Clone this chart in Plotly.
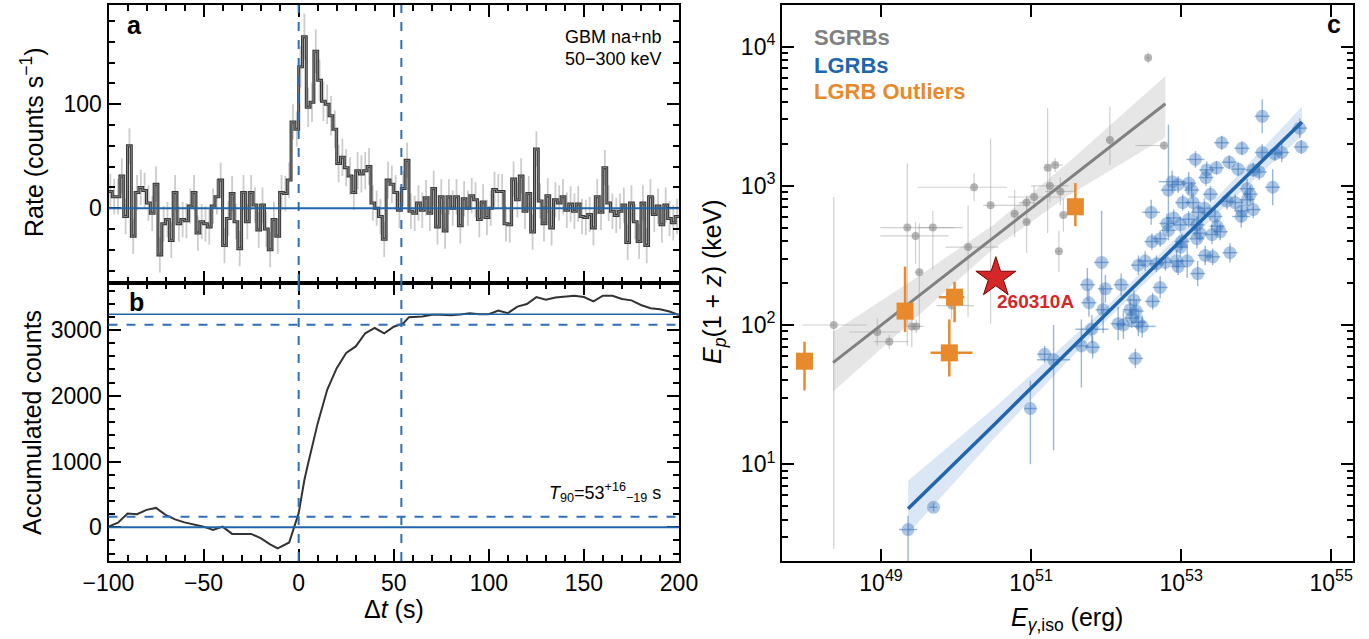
import numpy as np
import plotly.graph_objects as go

W, H = 1369, 639

# ---------------- Panel a: GBM light curve (2 s bins) ----------------
bin_width = 2.0
rate_pre = [16, 11, 11, 31, -8, 60, -27, 15, 20, 17, 5, -5, 23, -45, -15, -11, -31, 15, -15, -11,
            -12, 2, 15, -24, -13, -15, -18, 2, 11, 27, -36, -10, 14, -13, -39, 15, -13, 15, 3, -21,
            3, -20, -40, -11, -27, 15, 14, 27, 83, 76]
rate_burst = [136, 165, 97, 102, 151, 123, 103, 100, 89, 76, 43, 49, 39, 31, 15, 36, 33, 36, 40, 5,
              0, -8, -30, 27, 23, 15, -2, 19]
rate_post = [46, -3, -5, 5, -2, 10, -5, 19, -18, 11, -22, 11, 0, 11, -17, 9, 0, 12, 8, -11,
             6, -9, 0, 18, 16, 16, -15, -16, 28, 8, 31, -3, 14, -23, 57, 7, -15, 12, -19, 8,
             5, 11, -2, 4, -3, 4, -8, -9, -6, -19, 11, -4, 39, 5, -3, -7, -3, 3, -33, 5,
             -13, -32, 5, -36, 11, -6, 2, -16, 3, -10, -14, -8]
err_background = 17
err_burst = [20, 22, 19, 19, 21, 20, 19, 19, 19, 18, 18, 18, 18, 18, 17, 18, 18, 18, 18, 17,
             17, 17, 17, 18, 18, 17, 17, 17]

t_start = -100.0
rate = rate_pre + rate_burst + rate_post
rate_err = [err_background] * len(rate_pre) + err_burst + [err_background] * len(rate_post)
t_edges = [t_start + bin_width * i for i in range(len(rate) + 1)]
t_centers = [t_start + bin_width * (i + 0.5) for i in range(len(rate))]

# ---------------- Panel b: accumulated counts ----------------
cum_t = [-100, -95, -90, -85, -80, -75, -70, -65, -60, -55, -50, -45, -40, -35, -30, -25, -20, -15,
         -11, -5, 0, 3, 5, 10, 15, 20, 25, 30, 35, 40, 45, 50, 55, 58, 65, 70, 75, 80, 85, 90, 95,
         100, 105, 110, 115, 120, 125, 130, 135, 140, 145, 150, 155, 160, 165, 170, 175, 180, 185,
         190, 195, 200]
cum_c = [10, 70, 210, 200, 265, 295, 190, 120, 75, 45, 10, -40, 10, -100, -105, -100, -165, -260,
         -320, -230, 215, 720, 975, 1580, 2090, 2420, 2650, 2750, 2950, 3030, 2950, 3050, 3100, 3195,
         3205, 3230, 3230, 3225, 3235, 3255, 3240, 3240, 3295, 3255, 3355, 3395, 3500, 3460, 3495,
         3510, 3520, 3500, 3435, 3520, 3520, 3470, 3450, 3380, 3330, 3315, 3280, 3225]
fluence_level = 3240
level_5 = 162
level_95 = 3078
t90_start = 0.0
t90_end = 54.0

# ---------------- Panel c: Amati relation (log10 values) ----------------
sg_lx = [52.56, 52.05, 52.77, 51.22, 51.32, 51.25, 50.24, 51.39, 51.04, 50.94, 50.46, 50.78, 50.94,
         51.43, 49.35, 49.69, 49.46, 50.16, 51.37, 49.51, 49.94, 48.37, 48.95, 49.11, 49.41, 49.47]
sg_ly = [3.92, 3.33, 3.29, 3.13, 3.15, 3.00, 2.99, 2.96, 2.92, 2.88, 2.86, 2.80, 2.74,
         2.79, 2.70, 2.70, 2.64, 2.56, 2.53, 2.38, 2.14, 2.00, 1.95, 1.88, 1.99, 1.99]
sg_dxm = [0.03, 0.05, 0.38, 0.05, 0.10, 0.25, 0.75, 0.20, 0.35, 0.10, 0.10, 0.05, 0.05,
          0.05, 0.36, 0.20, 0.47, 0.30, 0.05, 0.05, 0.20, 0.42, 0.37, 0.20, 0.10, 0.10]
sg_dxp = [0.03, 0.05, 0.03, 0.05, 0.10, 0.25, 0.44, 0.20, 0.35, 0.10, 0.50, 0.05, 0.05,
          0.05, 0.63, 0.40, 0.44, 0.40, 0.05, 0.05, 0.30, 0.44, 0.31, 0.25, 0.10, 0.10]
sg_dym = [0.04, 0.18, 0.03, 0.47, 0.05, 0.12, 0.10, 0.10, 0.08, 0.05, 0.85, 0.17, 0.22,
          0.12, 0.85, 0.30, 0.20, 0.50, 0.15, 0.40, 0.10, 1.61, 0.10, 0.05, 0.15, 0.05]
sg_dyp = [0.04, 0.24, 0.03, 0.43, 0.05, 0.12, 0.10, 0.10, 0.08, 0.05, 0.48, 0.17, 0.17,
          0.12, 0.46, 0.12, 0.10, 0.30, 0.15, 0.35, 0.10, 0.92, 0.10, 0.05, 0.10, 0.05]

lg_lx = [54.08, 54.58, 54.60, 53.54, 53.81, 54.08, 54.34, 54.25, 53.19, 53.64, 53.47, 53.76, 53.34,
         53.33, 53.96, 54.04, 52.88, 53.10, 52.96, 52.83, 53.14, 53.88, 54.22, 53.39, 53.92, 53.02,
         53.16, 52.60, 53.31, 53.61, 53.72, 53.88, 53.96, 53.81, 53.80, 53.45, 53.23, 52.90, 53.10,
         52.81, 52.99, 53.21, 52.83, 53.48, 53.52, 53.25, 53.41, 53.21, 52.72, 52.61, 53.01, 52.99,
         53.65, 53.32, 53.42, 53.08, 52.94, 51.94, 52.43, 52.52, 52.67, 52.79, 52.96, 53.22, 51.75,
         51.99, 52.20, 52.72, 51.77, 51.96, 52.37, 52.62, 52.32, 52.40, 52.34, 52.43, 52.48, 52.16,
         52.23, 51.81, 51.67, 51.82, 51.18, 51.30, 52.39, 50.99, 49.70, 49.36]
lg_ly = [3.50, 3.415, 3.28, 3.31, 3.27, 3.24, 3.24, 3.23, 3.19, 3.17, 3.13, 3.12, 3.115,
         3.06, 3.115, 3.10, 3.03, 3.02, 3.01, 2.97, 2.97, 2.98, 2.99, 2.94, 2.94, 2.88,
         2.88, 2.81, 2.84, 2.89, 2.88, 2.90, 2.83, 2.82, 2.78, 2.78, 2.81, 2.77, 2.76,
         2.73, 2.72, 2.72, 2.68, 2.71, 2.67, 2.66, 2.65, 2.62, 2.62, 2.60, 2.60, 2.56,
         2.52, 2.50, 2.49, 2.46, 2.46, 2.45, 2.43, 2.46, 2.44, 2.45, 2.42, 2.37, 2.29,
         2.26, 2.29, 2.27, 2.16, 2.11, 2.18, 2.17, 2.11, 2.10, 2.05, 2.02, 1.99, 2.01,
         2.00, 1.97, 1.85, 1.84, 1.79, 1.75, 1.76, 1.40, 0.69, 0.53]
lg_dx = [0.10, 0.10, 0.10, 0.10, 0.10, 0.10, 0.10, 0.10, 0.12, 0.10, 0.10, 0.10, 0.10,
         0.10, 0.10, 0.10, 0.18, 0.10, 0.10, 0.10, 0.10, 0.10, 0.10, 0.10, 0.10, 0.10,
         0.10, 0.12, 0.10, 0.10, 0.10, 0.10, 0.10, 0.10, 0.12, 0.10, 0.10, 0.10, 0.10,
         0.10, 0.10, 0.10, 0.10, 0.10, 0.10, 0.10, 0.10, 0.10, 0.10, 0.10, 0.10, 0.10,
         0.10, 0.10, 0.10, 0.10, 0.10, 0.10, 0.10, 0.10, 0.10, 0.10, 0.10, 0.10, 0.10,
         0.10, 0.10, 0.10, 0.10, 0.10, 0.10, 0.10, 0.10, 0.10, 0.10, 0.10, 0.18, 0.10,
         0.10, 0.22, 0.10, 0.10, 0.10, 0.22, 0.10, 0.08, 0.05, 0.12]
lg_dyp = [0.12, 0.07, 0.05, 0.05, 0.05, 0.06, 0.07, 0.05, 0.06, 0.05, 0.05, 0.05, 0.06,
          0.06, 0.05, 0.06, 0.08, 0.08, 0.06, 0.47, 0.06, 0.07, 0.13, 0.06, 0.06, 0.06,
          0.07, 0.09, 0.07, 0.06, 0.06, 0.06, 0.06, 0.08, 0.08, 0.07, 0.06, 0.06, 0.06,
          0.07, 0.06, 0.06, 0.07, 0.06, 0.06, 0.06, 0.07, 0.07, 0.06, 0.06, 0.06, 0.07,
          0.07, 0.07, 0.06, 0.12, 0.08, 0.37, 0.07, 0.07, 0.06, 0.06, 0.06, 0.09, 0.12,
          0.10, 0.08, 0.08, 0.10, 0.17, 0.07, 0.06, 0.08, 0.08, 0.07, 0.10, 0.08, 0.12,
          0.10, 0.10, 0.19, 0.08, 0.06, 0.25, 0.07, 0.20, 0.03, 0.10]
lg_dym = [0.12, 0.07, 0.05, 0.05, 0.05, 0.06, 0.07, 0.05, 0.06, 0.05, 0.05, 0.05, 0.06,
          0.06, 0.05, 0.06, 0.08, 0.08, 0.06, 0.30, 0.06, 0.07, 0.13, 0.06, 0.06, 0.06,
          0.07, 0.09, 0.07, 0.06, 0.06, 0.06, 0.06, 0.08, 0.08, 0.07, 0.06, 0.06, 0.06,
          0.07, 0.06, 0.06, 0.07, 0.06, 0.06, 0.06, 0.07, 0.07, 0.06, 0.06, 0.06, 0.07,
          0.07, 0.07, 0.06, 0.12, 0.08, 0.37, 0.07, 0.07, 0.06, 0.06, 0.06, 0.09, 0.12,
          0.10, 0.08, 0.08, 0.10, 0.17, 0.07, 0.06, 0.08, 0.08, 0.07, 0.10, 0.08, 0.12,
          0.10, 0.10, 0.30, 0.08, 0.06, 0.65, 0.07, 0.40, 0.03, 0.40]

out_lx = [51.59, 49.98, 49.32, 49.91, 47.98]
out_ly = [2.85, 2.20, 2.10, 1.80, 1.74]
out_dxm = [0.0, 0.21, 0.0, 0.25, 0.0]
out_dxp = [0.0, 0.13, 0.0, 0.31, 0.0]
out_dym = [0.14, 0.18, 0.15, 0.17, 0.21]
out_dyp = [0.17, 0.11, 0.32, 0.24, 0.14]

grb_lx = [50.53]
grb_ly = [2.34]
grb_name = "260310A"

# fitted relations and their confidence bands (log10 values)
sg_fit_lx = [48.36, 49.5, 50.5, 51.5, 52.79]
sg_fit_ly = [1.73, 2.21, 2.63, 3.05, 3.59]
sg_band_lo = [1.52, 2.07, 2.55, 2.93, 3.35]
sg_band_hi = [1.95, 2.35, 2.72, 3.17, 3.79]
lg_fit_lx = [49.36, 50.5, 52.0, 53.5, 54.61]
lg_fit_ly = [0.68, 1.28, 2.08, 2.87, 3.46]
lg_band_lo = [0.50, 1.18, 2.03, 2.81, 3.36]
lg_band_hi = [0.88, 1.40, 2.13, 2.93, 3.57]

# tick labels of panel c
ep_tick_exp = [1, 2, 3, 4]
eiso_tick_exp = [49, 51, 53, 55]

# ---------------- colours / styling ----------------
BLUE = "#2166ac"
BLUE_D = "#2f6fba"
GRAY = "#808080"
ORANGE = "#e8892c"
RED = "#d62728"
TICKFONT = dict(family="Liberation Sans, Arial", size=23, color="black")


def px(x):
    return x / W


def py(y):
    return 1 - y / H


def pw(a):
    return 10 ** np.asarray(a, dtype=float)


def err_plus(l, d):
    return pw(np.add(l, d)) - pw(l)


def err_minus(l, d):
    return pw(l) - pw(np.subtract(l, d))


fig = go.Figure()

# Panel a
fig.add_trace(go.Scatter(x=t_centers, y=rate, mode="markers", marker=dict(size=1, opacity=0),
                         error_y=dict(type="data", array=rate_err, color="#cccccc", thickness=1.8, width=0),
                         xaxis="x", yaxis="y", showlegend=False, hoverinfo="skip"))
fig.add_trace(go.Scatter(x=t_edges, y=rate + [rate[-1]], mode="lines", line=dict(shape="hv", color="#383838", width=3),
                         xaxis="x", yaxis="y", showlegend=False))
fig.add_trace(go.Scatter(x=t_edges, y=rate + [rate[-1]], mode="lines", line=dict(shape="hv", color="#8c8c8c", width=0.9),
                         xaxis="x", yaxis="y", showlegend=False))

# Panel b
fig.add_trace(go.Scatter(x=cum_t, y=cum_c, mode="lines", line=dict(color="#333333", width=2),
                         xaxis="x2", yaxis="y2", showlegend=False))

# Panel c bands
for bx, blo, bhi, col in [(sg_fit_lx, sg_band_lo, sg_band_hi, "rgba(190,190,190,0.38)"),
                          (lg_fit_lx, lg_band_lo, lg_band_hi, "rgba(160,192,228,0.38)")]:
    fig.add_trace(go.Scatter(x=list(pw(bx)) + list(pw(bx[::-1])), y=list(pw(bhi)) + list(pw(blo[::-1])),
                             mode="lines", fill="toself", fillcolor=col, line=dict(width=0),
                             xaxis="x3", yaxis="y3", showlegend=False, hoverinfo="skip"))

# SGRB points
fig.add_trace(go.Scatter(x=pw(sg_lx), y=pw(sg_ly), mode="markers",
                         marker=dict(size=8, color="rgba(135,135,135,0.6)"),
                         error_x=dict(type="data", symmetric=False, array=err_plus(sg_lx, sg_dxp),
                                      arrayminus=err_minus(sg_lx, sg_dxm), color="rgba(150,150,150,0.45)",
                                      thickness=1.2, width=0),
                         error_y=dict(type="data", symmetric=False, array=err_plus(sg_ly, sg_dyp),
                                      arrayminus=err_minus(sg_ly, sg_dym), color="rgba(150,150,150,0.45)",
                                      thickness=1.2, width=0),
                         xaxis="x3", yaxis="y3", showlegend=False))
# LGRB points
fig.add_trace(go.Scatter(x=pw(lg_lx), y=pw(lg_ly), mode="markers",
                         marker=dict(size=13, color="rgba(50,112,186,0.40)"),
                         error_x=dict(type="data", array=err_plus(lg_lx, lg_dx),
                                      arrayminus=err_minus(lg_lx, lg_dx), symmetric=False,
                                      color="rgba(50,112,186,0.5)", thickness=1.4, width=0),
                         error_y=dict(type="data", symmetric=False, array=err_plus(lg_ly, lg_dyp),
                                      arrayminus=err_minus(lg_ly, lg_dym), color="rgba(50,112,186,0.5)",
                                      thickness=1.4, width=0),
                         xaxis="x3", yaxis="y3", showlegend=False))
# fit lines
fig.add_trace(go.Scatter(x=pw(sg_fit_lx), y=pw(sg_fit_ly), mode="lines", line=dict(color=GRAY, width=3),
                         xaxis="x3", yaxis="y3", showlegend=False))
fig.add_trace(go.Scatter(x=pw(lg_fit_lx), y=pw(lg_fit_ly), mode="lines", line=dict(color=BLUE, width=3.5),
                         xaxis="x3", yaxis="y3", showlegend=False))
# outliers
fig.add_trace(go.Scatter(x=pw(out_lx), y=pw(out_ly), mode="markers",
                         marker=dict(size=17, symbol="square", color=ORANGE),
                         error_x=dict(type="data", symmetric=False, array=err_plus(out_lx, out_dxp),
                                      arrayminus=err_minus(out_lx, out_dxm), color=ORANGE, thickness=2.5, width=0),
                         error_y=dict(type="data", symmetric=False, array=err_plus(out_ly, out_dyp),
                                      arrayminus=err_minus(out_ly, out_dym), color=ORANGE, thickness=2.5, width=0),
                         xaxis="x3", yaxis="y3", showlegend=False))
# GRB 260310A
fig.add_trace(go.Scatter(x=pw(grb_lx), y=pw(grb_ly), mode="markers",
                         marker=dict(size=30, symbol="star", color=RED, line=dict(color="#7a0000", width=1)),
                         xaxis="x3", yaxis="y3", showlegend=False))

# ---------------- axes ----------------
xdom_ab = [px(108.5), px(679)]
ydom_a = [py(283), py(5)]
ydom_b = [py(561), py(283)]
xdom_c = [px(782), px(1353)]
ydom_c = [py(561), py(5)]

common = dict(showline=True, linecolor="black", linewidth=2, mirror="allticks", ticks="inside",
              tickcolor="black", tickwidth=2, ticklen=12, showgrid=False, zeroline=False,
              tickfont=TICKFONT, automargin=False)

fig.update_layout(
    template="none",
    width=W, height=H, margin=dict(l=0, r=0, t=0, b=0, pad=0, autoexpand=False),
    paper_bgcolor="white", plot_bgcolor="white", showlegend=False,
    xaxis=dict(domain=xdom_ab, anchor="y", range=[-100, 200], dtick=50, tick0=0, showticklabels=False,
               matches="x2", minor=dict(ticks="inside", dtick=10, ticklen=6, tickwidth=1.5, tickcolor="black"),
               **common),
    yaxis=dict(domain=ydom_a, anchor="x", range=[-72, 195.5], dtick=100, tick0=0,
               minor=dict(ticks="inside", dtick=20, ticklen=6, tickwidth=1.5, tickcolor="black"), **common),
    xaxis2=dict(domain=xdom_ab, anchor="y2", range=[-100, 200], dtick=50, tick0=0,
                minor=dict(ticks="inside", dtick=10, ticklen=6, tickwidth=1.5, tickcolor="black"), **common),
    yaxis2=dict(domain=ydom_b, anchor="x2", range=[-512, 3714], dtick=1000, tick0=0,
                minor=dict(ticks="inside", dtick=200, ticklen=6, tickwidth=1.5, tickcolor="black"), **common),
    xaxis3=dict(domain=xdom_c, anchor="y3", type="log", range=[47.68, 55.29], tickmode="array",
                tickvals=list(pw(eiso_tick_exp)), ticktext=["10<sup>%d</sup>" % e for e in eiso_tick_exp],
                **common),
    yaxis3=dict(domain=ydom_c, anchor="x3", type="log", range=[0.304, 4.30], tickmode="array",
                tickvals=list(pw(ep_tick_exp)), ticktext=["10<sup>%d</sup>" % e for e in ep_tick_exp],
                minor=dict(ticks="inside", dtick="D1", ticklen=6, tickwidth=1.5, tickcolor="black"), **common),
)

# reference lines
shapes = []
for tline in [t90_start, t90_end]:
    for xa, ya in [("x", "y"), ("x2", "y2")]:
        shapes.append(dict(type="line", xref=xa, yref=ya + " domain", x0=tline, x1=tline, y0=0, y1=1,
                           line=dict(color=BLUE_D, width=2, dash="dash")))
shapes.append(dict(type="line", xref="x domain", yref="y", x0=0, x1=1, y0=0, y1=0,
                   line=dict(color=BLUE, width=2)))
for lvl, dash, wid in [(0, "solid", 2), (fluence_level, "solid", 1.6), (level_5, "dash", 2), (level_95, "dash", 2)]:
    shapes.append(dict(type="line", xref="x2 domain", yref="y2", x0=0, x1=1, y0=lvl, y1=lvl,
                       line=dict(color=BLUE_D if dash == "dash" else BLUE, width=wid, dash=dash)))
fig.update_layout(shapes=shapes)

# ---------------- text ----------------
ann = []


def add_text(x, y, text, size, color="black", xanchor="center", family="Liberation Sans, Arial", angle=0):
    ann.append(dict(xref="paper", yref="paper", x=px(x), y=py(y), text=text, showarrow=False,
                    xanchor=xanchor, yanchor="middle", textangle=angle,
                    font=dict(size=size, color=color, family=family)))


add_text(134, 25, "<b>a</b>", 25)
add_text(136, 302, "<b>b</b>", 25)
add_text(1334, 24, "<b>c</b>", 25)
add_text(664, 37, "GBM na+nb", 18, xanchor="right")
add_text(664, 59, "50\u2212300 keV", 18, xanchor="right")
add_text(663, 492, "<i>T</i><sub>90</sub>=53<sup>+16</sup><sub>\u221219</sub> s", 18, xanchor="right")
add_text(32, 143, "Rate (counts s<sup>\u22121</sup>)", 25, angle=-90)
add_text(32, 423, "Accumulated counts", 25, angle=-90)
add_text(394, 609, "\u0394<i>t</i> (s)", 25)
add_text(1067, 619, "<i>E</i><sub><i>\u03b3</i>,iso</sub> (erg)", 25)
add_text(714, 282, "<i>E</i><sub><i>p</i></sub>(1 + <i>z</i>) (keV)", 25, angle=-90)
add_text(812, 38, "<b>SGRBs</b>", 22, color=GRAY, xanchor="left")
add_text(812, 65, "<b>LGRBs</b>", 22, color=BLUE, xanchor="left")
add_text(812, 92, "<b>LGRB Outliers</b>", 22, color=ORANGE, xanchor="left")
add_text(995, 302, "<b>" + grb_name + "</b>", 19, color=RED, xanchor="left")
fig.update_layout(annotations=ann)

fig.write_html("out.html", config={"displayModeBar": False},
               post_script="document.body.style.margin='0';document.body.style.overflow='hidden';")
